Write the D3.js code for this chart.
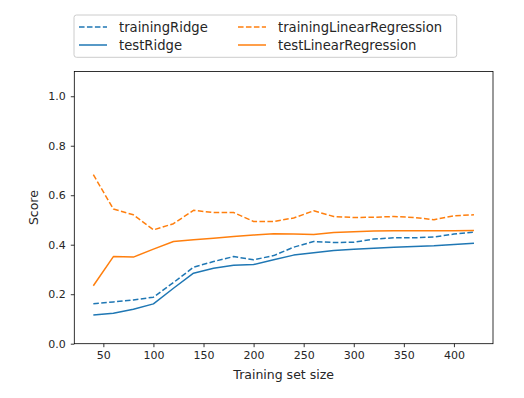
<!DOCTYPE html>
<html><head><meta charset="utf-8">
<script src="https://cdn.jsdelivr.net/npm/d3@7"></script>
<style>
body{margin:0;background:#fff;}
svg text{font-family:"DejaVu Sans",sans-serif;fill:#262626;}
</style></head>
<body><svg id="c" width="524" height="398"></svg>
<script>
const sizes = [40,60,80,100,120,140,160,180,200,220,240,260,280,300,320,340,360,380,400,420];
const trainingRidge = [0.161,0.169,0.177,0.188,0.247,0.309,0.332,0.352,0.339,0.356,0.390,0.413,0.409,0.410,0.423,0.428,0.428,0.431,0.443,0.451];
const testRidge = [0.116,0.123,0.139,0.161,0.224,0.285,0.305,0.317,0.320,0.339,0.358,0.368,0.377,0.382,0.386,0.390,0.393,0.396,0.401,0.406];
const trainingLinearRegression = [0.683,0.544,0.521,0.460,0.485,0.539,0.530,0.530,0.494,0.494,0.508,0.537,0.514,0.510,0.511,0.514,0.510,0.501,0.517,0.521];
const testLinearRegression = [0.234,0.352,0.350,0.382,0.413,0.420,0.426,0.433,0.439,0.444,0.443,0.441,0.449,0.452,0.455,0.456,0.456,0.456,0.456,0.457];
const xTicks = [50,100,150,200,250,300,350,400];
const yTicks = [0,0.2,0.4,0.6,0.8,1.0];

const series = [
  {name:"trainingRidge", values:trainingRidge, color:"#1f77b4", dash:"5.55,2.4"},
  {name:"testRidge", values:testRidge, color:"#1f77b4", dash:null},
  {name:"trainingLinearRegression", values:trainingLinearRegression, color:"#ff7f0e", dash:"5.55,2.4"},
  {name:"testLinearRegression", values:testLinearRegression, color:"#ff7f0e", dash:null}
];

const L=74.3, R=493, T=71.5, B=343.7;
const svg = d3.select("#c");
const x = d3.scaleLinear().domain([21,439]).range([L,R]);
const y = d3.scaleLinear().domain([0,1.1]).range([B,T]);

const line = d3.line().x((d,i)=>x(sizes[i])).y(d=>y(d));
series.forEach(s=>{
  svg.append("path").attr("d",line(s.values)).attr("fill","none")
    .attr("stroke",s.color).attr("stroke-width",1.5)
    .attr("stroke-dasharray",s.dash).attr("stroke-linejoin","round");
});

// frame
svg.append("rect").attr("x",L).attr("y",T).attr("width",R-L).attr("height",B-T)
  .attr("fill","none").attr("stroke","#000").attr("stroke-width",0.8);

const xa = svg.append("g").attr("transform",`translate(0,${B})`)
  .call(d3.axisBottom(x).tickValues(xTicks).tickSize(3.5).tickPadding(4).tickFormat(d3.format("d")));
const ya = svg.append("g").attr("transform",`translate(${L},0)`)
  .call(d3.axisLeft(y).tickValues(yTicks).tickSize(3.5).tickPadding(5).tickFormat(d3.format(".1f")));
[xa,ya].forEach(a=>{
  a.select(".domain").remove();
  a.selectAll(".tick line").attr("stroke","#000").attr("stroke-width",0.8);
  a.selectAll("text").attr("font-family","DejaVu Sans").attr("font-size",11).attr("fill","#262626");
});

svg.append("text").attr("x",(L+R)/2).attr("y",378.5).attr("text-anchor","middle")
  .attr("font-size",12.5).text("Training set size");
svg.append("text").attr("transform",`translate(38.3,${(T+B)/2}) rotate(-90)`).attr("text-anchor","middle")
  .attr("font-size",12.5).text("Score");

// legend
const lg = svg.append("g");
lg.append("rect").attr("x",74).attr("y",15).attr("width",382.7).attr("height",42.3)
  .attr("rx",2.5).attr("fill","#fff").attr("fill-opacity",0.8).attr("stroke","#cccccc").attr("stroke-width",1);
const pos = [[79,27],[79,45],[238,27],[238,45]];
series.forEach((s,i)=>{
  const [px,py]=pos[i];
  lg.append("line").attr("x1",px).attr("x2",px+28).attr("y1",py).attr("y2",py)
    .attr("stroke",s.color).attr("stroke-width",1.5).attr("stroke-dasharray",s.dash);
  lg.append("text").attr("x",px+40).attr("y",py).attr("dy","0.36em").attr("font-size",13.2).text(s.name);
});
</script></body></html>
